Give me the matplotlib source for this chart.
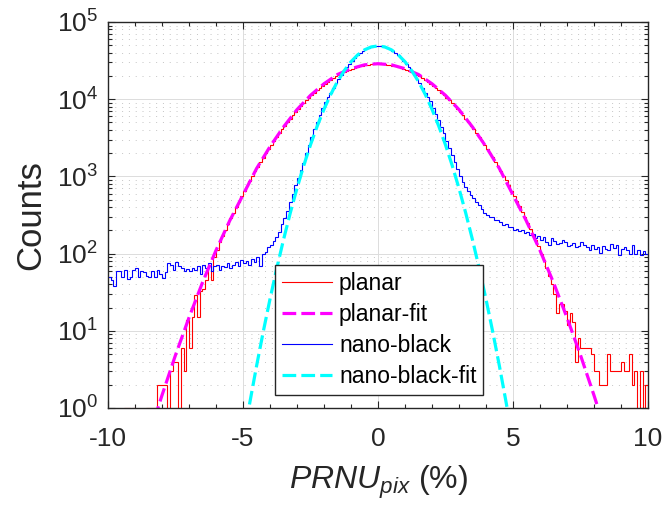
import matplotlib
matplotlib.use("Agg")
import matplotlib.pyplot as plt
import numpy as np
from matplotlib.ticker import MultipleLocator, LogLocator, NullFormatter

# histogram bins (0.1 % wide) from -10 % to 10 %
bin_edges = np.round(np.arange(-10.0, 10.05, 0.1), 2)

planar = [
    0, 0, 0, 0, 0, 0, 1, 1, 0, 1,
    0, 0, 0, 0, 1, 1, 1, 1, 2, 2,
    2, 2, 0, 3, 4, 4, 0, 6, 3, 14,
    6, 15, 29, 15, 33, 35, 45, 70, 46, 90,
    110, 140, 170, 205, 240, 290, 340, 400, 470, 550,
    640, 750, 870, 1010, 1160, 1340, 1540, 1750, 2000, 2270,
    2570, 2900, 3260, 3650, 4080, 4550, 5050, 5600, 6180, 6800,
    7460, 8160, 8900, 9670, 10480, 11320, 12190, 13090, 14010, 14940,
    15900, 16850, 17810, 18770, 19720, 20660, 21580, 22460, 23300, 24110,
    24860, 25560, 26200, 26770, 27270, 27700, 28040, 28300, 28470, 28580,
    28600, 28450, 28280, 28020, 27680, 27250, 26760, 26180, 25540, 24850,
    24100, 23290, 22450, 21570, 20650, 19710, 18760, 17800, 16840, 15890,
    14930, 14000, 13080, 12180, 11310, 10470, 9660, 8890, 8150, 7450,
    6790, 6170, 5590, 5050, 4550, 4090, 3660, 3270, 2900, 2580,
    2280, 2010, 1770, 1550, 1350, 1180, 1020, 885, 765, 655,
    565, 480, 410, 350, 295, 250, 210, 176, 148, 124,
    100, 82, 66, 52, 40, 30, 17, 22, 22, 18,
    12, 17, 13, 4, 8, 6, 6, 6, 6, 5,
    3, 3, 2, 2, 2, 5, 3, 3, 3, 3,
    4, 3, 3, 5, 2, 3, 0, 3, 0, 2,
]

nano_black = [
    50, 45, 38, 60, 60, 50, 62, 47, 50, 62,
    65, 50, 60, 57, 52, 50, 60, 50, 62, 55,
    48, 58, 75, 72, 62, 78, 70, 65, 60, 64,
    60, 65, 62, 70, 55, 72, 65, 75, 60, 70,
    72, 62, 70, 68, 75, 66, 72, 78, 70, 82,
    75, 80, 72, 85, 78, 90, 70, 100, 105, 120,
    130, 145, 165, 190, 240, 290, 360, 470, 600, 780,
    950, 1200, 1500, 2000, 2550, 3250, 4100, 5100, 6300, 7700,
    9200, 10600, 12200, 14000, 16000, 18200, 20600, 23200, 25900, 28700,
    31500, 34300, 37000, 39600, 42000, 44200, 45900, 47300, 48200, 48900,
    48900, 48300, 47400, 46000, 44300, 42200, 39800, 37300, 34500, 31700,
    28900, 26100, 23400, 20800, 18400, 16200, 14100, 12200, 10600, 9400,
    7800, 6500, 5400, 4400, 3600, 2900, 2350, 1900, 1550, 1250,
    1000, 850, 720, 640, 580, 530, 460, 420, 380, 340,
    320, 295, 300, 275, 270, 260, 235, 240, 218, 222,
    205, 210, 196, 200, 185, 188, 172, 178, 160, 168,
    150, 166, 140, 128, 160, 145, 135, 138, 150, 140,
    125, 130, 138, 120, 125, 140, 130, 120, 112, 130,
    115, 120, 102, 125, 115, 112, 135, 118, 130, 95,
    115, 120, 110, 98, 130, 100, 110, 95, 108, 100,
]

planar_fit_x = np.arange(-8.5, 8.51, 0.5)
planar_fit = [0.417, 1.46, 4.84, 14.8, 42.2, 110, 263, 575, 1259, 2427,
              4365, 7330, 11220, 15850, 20890, 24830, 27860, 28840,
              27860, 24830, 20890, 15850, 11220, 7330, 4365, 2427, 1259,
              575, 263, 110, 42.2, 14.8, 4.84, 1.46, 0.417]

nano_fit_x = np.arange(-5.0, 5.01, 0.25)
nano_fit = [0.367, 1.16, 3.46, 9.71, 25.7, 64.1, 151, 335, 700, 1380,
            2564, 4489, 7413, 11540, 16940, 23430, 30550, 37560, 43550,
            47560, 48980,
            47560, 43550, 37560, 30550, 23430, 16940, 11540, 7413, 4489,
            2564, 1380, 700, 335, 151, 64.1, 25.7, 9.71, 3.46, 1.16, 0.367]

plt.rcParams['font.family'] = ['Liberation Sans', 'DejaVu Sans']
plt.rcParams['mathtext.fontset'] = 'custom'
plt.rcParams['mathtext.rm'] = 'Liberation Sans'
plt.rcParams['mathtext.it'] = 'Liberation Sans:italic'
plt.rcParams['mathtext.bf'] = 'Liberation Sans:bold'
plt.rcParams['axes.unicode_minus'] = False

dark = '#262626'
fig = plt.figure(figsize=(6.65, 5.15), dpi=100)
ax = fig.add_axes([0.1624, 0.2078, 0.812, 0.7495])

def nz(v):
    v = np.asarray(v, dtype=float)
    return np.where(v > 0, v, 1e-3)

ax.stairs(nz(planar), bin_edges, color='#ff0000', lw=0.8, baseline=None, label='planar')
ax.plot(planar_fit_x, planar_fit, color='#ff00ff', lw=2.3, ls=(0, (4.3, 1.6)), label='planar-fit')
ax.stairs(nz(nano_black), bin_edges, color='#0000ff', lw=0.8, baseline=None, label='nano-black')
ax.plot(nano_fit_x, nano_fit, color='#00ffff', lw=2.3, ls=(0, (4.3, 1.6)), label='nano-black-fit')

ax.set_yscale('log')
ax.set_xlim(-10, 10)
ax.set_ylim(1, 1e5)
ax.set_xticks([-10, -5, 0, 5, 10])
ax.xaxis.set_minor_locator(MultipleLocator(1))
ax.yaxis.set_major_locator(LogLocator(base=10, numticks=10))
ax.yaxis.set_minor_locator(LogLocator(base=10, subs=np.arange(2, 10), numticks=100))
ax.yaxis.set_minor_formatter(NullFormatter())

ax.tick_params(which='both', direction='in', top=True, right=True, colors=dark, width=0.8)
ax.tick_params(which='major', length=5, labelsize=19)
ax.tick_params(which='minor', length=3)
ax.tick_params(axis='x', which='major', pad=14)
ax.tick_params(axis='y', which='major', pad=7)

ax.grid(True, which='major', color='#dcdcdc', lw=0.7)
ax.grid(True, which='minor', axis='y', color='#c4c4c4', lw=0.7, ls=(0, (1, 6)))
ax.set_axisbelow(True)
for s in ax.spines.values():
    s.set_color(dark)
    s.set_linewidth(1.0)

ax.set_xlabel(r'$\mathit{PRNU}_{pix}$ (%)', fontsize=23, color=dark, labelpad=9)
ax.set_ylabel('Counts', fontsize=25, color=dark, labelpad=7)

leg = ax.legend(loc='lower left', bbox_to_anchor=(0.309, 0.034), borderaxespad=0,
                fontsize=16.5, fancybox=False, edgecolor=dark, framealpha=1,
                handlelength=2.2, handletextpad=0.3, labelspacing=0.35, borderpad=0.3)
leg.get_frame().set_linewidth(1.0)

fig.savefig('out.png', dpi=100)
